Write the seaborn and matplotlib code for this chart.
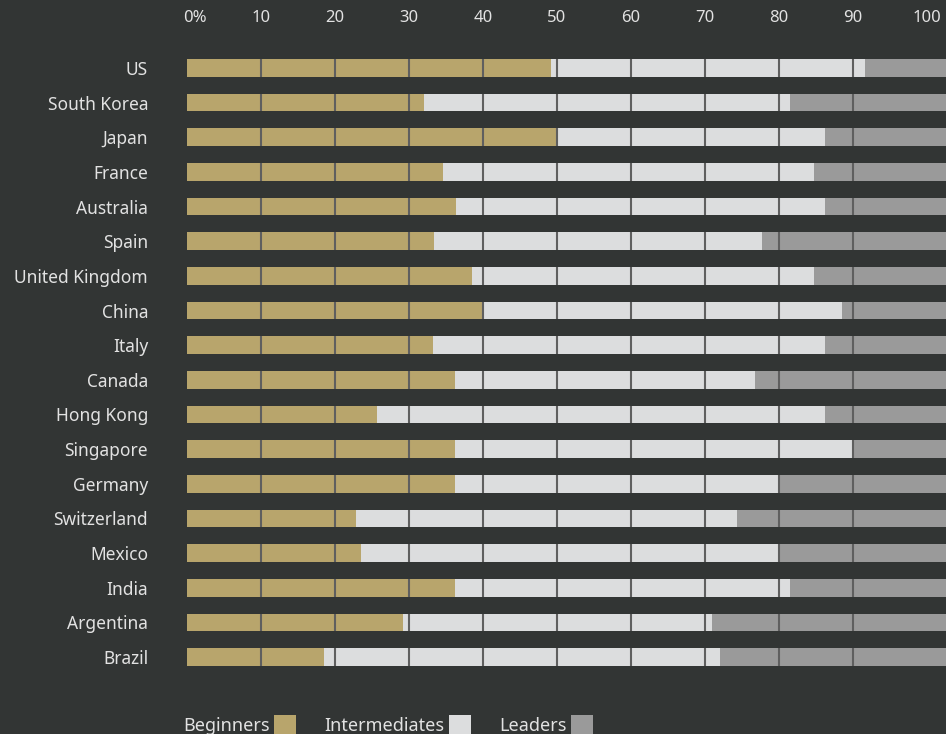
import numpy as np
import pandas as pd
import matplotlib
matplotlib.use("Agg")
import matplotlib.pyplot as plt
import matplotlib.transforms as mtransforms
from matplotlib.patches import Patch
import seaborn as sns

countries = ["US", "South Korea", "Japan", "France", "Australia", "Spain",
             "United Kingdom", "China", "Italy", "Canada", "Hong Kong",
             "Singapore", "Germany", "Switzerland", "Mexico", "India",
             "Argentina", "Brazil"]
beginners = [49.2, 32.0, 50.0, 34.6, 36.3, 33.4, 38.5, 40.0, 33.3, 36.2,
             25.7, 36.2, 36.2, 22.8, 23.5, 36.2, 29.2, 18.5]
intermediates = [42.5, 49.5, 36.2, 50.1, 49.9, 44.3, 46.2, 48.5, 52.9, 40.6,
                 60.5, 53.8, 43.8, 51.5, 56.5, 45.3, 41.8, 53.5]
leaders = [8.3, 18.5, 13.8, 15.3, 13.8, 22.3, 15.3, 11.5, 13.8, 23.2,
           13.8, 10.0, 20.0, 25.7, 20.0, 18.5, 29.0, 28.0]
tick_values = [0, 10, 20, 30, 40, 50, 60, 70, 80, 90, 100]
tick_labels = ["0%", "10", "20", "30", "40", "50", "60", "70", "80", "90", "100"]
series_names = ["Beginners", "Intermediates", "Leaders"]

BG = "#323534"
TEXT = "#e2e2e2"
COLORS = {"Beginners": "#b8a56c", "Intermediates": "#dcddde", "Leaders": "#9a9a9a"}
GRID = "#5f5f5f"
X_MAX = 102.6          # the leaders track runs on to the right edge of the plot
BAR_H = 0.51

sns.set_theme(style="white")
plt.rcParams["font.family"] = ["Noto Sans", "DejaVu Sans"]

df = pd.DataFrame({"country": countries,
                   "beg": beginners,
                   "mid": np.add(beginners, intermediates)})
df["track"] = X_MAX

fig = plt.figure(figsize=(9.46, 7.34), dpi=100, facecolor=BG)
ax = fig.add_axes([187 / 946, 1 - 675 / 734, 1 - 187 / 946, (675 - 50) / 734])
ax.set_facecolor(BG)

# stacked layers, widest first
bar_kw = dict(width=BAR_H, saturation=1, orient="h", ax=ax,
              linewidth=0, edgecolor="none")
sns.barplot(data=df, y="country", x="track", color=COLORS["Leaders"], **bar_kw)
sns.barplot(data=df, y="country", x="mid", color=COLORS["Intermediates"], **bar_kw)
sns.barplot(data=df, y="country", x="beg", color=COLORS["Beginners"], **bar_kw)

# grid lines drawn only across the bars
for i in range(len(countries)):
    ax.vlines(tick_values[1:-1], i - BAR_H / 2, i + BAR_H / 2,
              color=GRID, linewidth=1.5, zorder=5)

ax.set_xlim(0, X_MAX)
ax.set_ylim(len(countries) - 0.48, -0.52)
ax.set_xticks(tick_values)
ax.set_xticklabels(tick_labels)
ax.xaxis.tick_top()
ax.tick_params(axis="x", length=0, pad=17, labelsize=12, labelcolor=TEXT)
ax.tick_params(axis="y", length=0, pad=28, labelsize=12.5, labelcolor=TEXT)
shift = mtransforms.ScaledTranslation(-4 / 100, 0, fig.dpi_scale_trans)
for lab in ax.get_xticklabels():
    if lab.get_text() == "0%":
        lab.set_horizontalalignment("left")
        lab.set_transform(lab.get_transform() + shift)
ax.set_xlabel("")
ax.set_ylabel("")
for s in ax.spines.values():
    s.set_visible(False)

handles = [Patch(facecolor=COLORS[n], edgecolor="none", label=n) for n in series_names]
leg = fig.legend(handles=handles, loc="lower left", bbox_to_anchor=(183 / 946, -0.001),
                 ncol=3, frameon=False, markerfirst=False, fontsize=13,
                 handlelength=1.22, handleheight=1.22, handletextpad=0.25,
                 columnspacing=1.55, borderpad=0, borderaxespad=0)
for t in leg.get_texts():
    t.set_color(TEXT)

fig.savefig("out.png", dpi=100, facecolor=BG)
